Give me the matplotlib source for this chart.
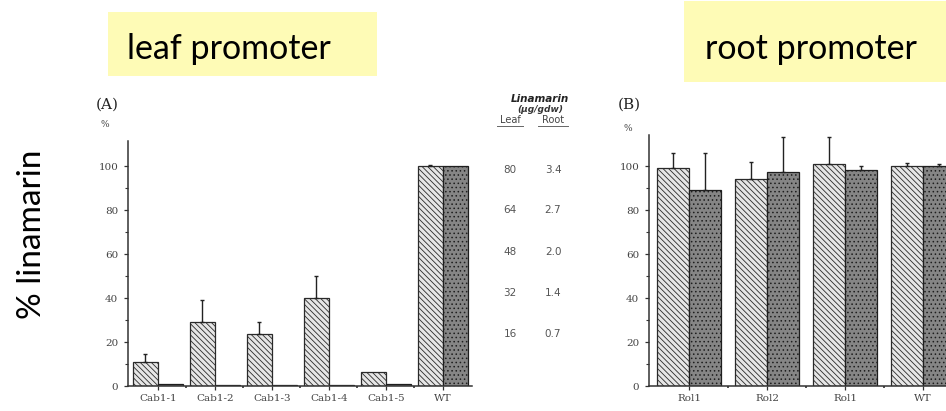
import matplotlib
matplotlib.use("Agg")
import matplotlib.pyplot as plt
import numpy as np

# ---------------- data ----------------
cats_a = ["Cab1-1", "Cab1-2", "Cab1-3", "Cab1-4", "Cab1-5", "WT"]
leaf_a = [11, 29, 23.5, 40, 6.5, 100]
leaf_a_err = [3.5, 10, 5.5, 10, 0, 0.5]
root_a = [1, 0.3, 0.3, 0.3, 0.8, 100]
root_a_err = [0, 0, 0, 0, 0, 0]

cats_b = ["Rol1", "Rol2", "Rol1", "WT"]
leaf_b = [99, 94, 101, 100]
leaf_b_err = [7, 8, 12, 1.5]
root_b = [89, 97.5, 98, 100]
root_b_err = [17, 15.5, 2, 1]

yticks = [0, 20, 40, 60, 80, 100]
table_leaf = ["80", "64", "48", "32", "16"]
table_root = ["3.4", "2.7", "2.0", "1.4", "0.7"]

# ---------------- figure ----------------
W, H = 946, 411
fig = plt.figure(figsize=(W / 100, H / 100), dpi=100)
fig.patch.set_facecolor("white")
plt.rcParams["hatch.linewidth"] = 0.6

def rect(l, t, r, b):
    return [l / W, 1 - b / H, (r - l) / W, (b - t) / H]

def fx(x):
    return x / W

def fy(y):
    return 1 - y / H

axis_col = "#333333"
tick_font = dict(family="DejaVu Serif", size=7.5, color="#444444")

def style_axis(ax, ymax, xlim):
    ax.set_ylim(0, ymax)
    ax.set_xlim(*xlim)
    for s in ["top", "right"]:
        ax.spines[s].set_visible(False)
    for s in ["left", "bottom"]:
        ax.spines[s].set_color(axis_col)
        ax.spines[s].set_linewidth(1.1)
    ax.set_yticks(yticks)
    ax.set_yticklabels([str(v) for v in yticks], **tick_font)
    ax.set_yticks(np.arange(10, 110, 20), minor=True)
    ax.tick_params(axis="y", which="major", length=3, width=0.9, color=axis_col, pad=4)
    ax.tick_params(axis="y", which="minor", length=2, width=0.8, color=axis_col)
    ax.tick_params(axis="x", which="major", length=3, width=0.9, color=axis_col, pad=3)
    ax.tick_params(axis="x", which="minor", length=1.5, width=1.2, color=axis_col)
    ax.patch.set_alpha(0)

def draw_bars(ax, leaf, leaf_err, root, root_err, w):
    idx = np.arange(len(leaf))
    ax.bar(idx - w, leaf, width=w, align="edge", facecolor="#e6e6e6",
           edgecolor="#2a2a2a", hatch="\\\\\\\\\\\\", linewidth=0.9, zorder=2)
    ax.bar(idx, root, width=w, align="edge", facecolor="#858585",
           edgecolor="#1e1e1e", hatch="....", linewidth=0.9, zorder=2)
    le = np.array(leaf_err, float)
    re = np.array(root_err, float)
    lm = le > 0
    rm = re > 0
    if lm.any():
        ax.errorbar((idx - w / 2)[lm], np.array(leaf)[lm],
                    yerr=[np.zeros(lm.sum()), le[lm]], fmt="none",
                    ecolor="#222222", elinewidth=1.0, capsize=1.5, zorder=3)
    if rm.any():
        ax.errorbar((idx + w / 2)[rm], np.array(root)[rm],
                    yerr=[np.zeros(rm.sum()), re[rm]], fmt="none",
                    ecolor="#222222", elinewidth=1.0, capsize=1.5, zorder=3)

# ---------------- panel A ----------------
axA = fig.add_axes(rect(128, 141, 472, 386))
wa = 0.44
draw_bars(axA, leaf_a, leaf_a_err, root_a, root_a_err, wa)
style_axis(axA, 111.4, (-0.526, 5.51))
axA.set_xticks(np.arange(len(cats_a)))
axA.set_xticklabels(cats_a, **tick_font)
axA.set_xticks(np.arange(len(cats_a) - 1) + 0.5, minor=True)

# ---------------- panel B ----------------
axB = fig.add_axes(rect(649, 135, 970, 386))
wb = 0.41
draw_bars(axB, leaf_b, leaf_b_err, root_b, root_b_err, wb)
style_axis(axB, 114.1, (-0.513, 3.6))
axB.set_xticks(np.arange(len(cats_b)))
axB.set_xticklabels(cats_b, **tick_font)
axB.set_xticks(np.arange(len(cats_b) - 1) + 0.5, minor=True)

# ---------------- panel labels ----------------
fig.text(fx(96), fy(105), "(A)", family="DejaVu Serif", size=11, color="#222222",
         va="center", ha="left")
fig.text(fx(100), fy(124), "%", family="DejaVu Serif", size=6.5, color="#444444",
         va="center", ha="left")
fig.text(fx(618), fy(105), "(B)", family="DejaVu Serif", size=11, color="#222222",
         va="center", ha="left")
fig.text(fx(623), fy(128), "%", family="DejaVu Serif", size=6.5, color="#444444",
         va="center", ha="left")

# ---------------- table ----------------
fig.text(fx(540), fy(99), "Linamarin", family="DejaVu Sans", size=7.5,
         style="italic", weight="bold", color="#222222", ha="center", va="center")
fig.text(fx(540), fy(109), "(\u00b5g/gdw)", family="DejaVu Sans", size=6.5,
         style="italic", weight="bold", color="#333333", ha="center", va="center")
fig.text(fx(510), fy(120), "Leaf", family="DejaVu Sans", size=7,
         color="#444444", ha="center", va="center")
fig.text(fx(553), fy(120), "Root", family="DejaVu Sans", size=7,
         color="#444444", ha="center", va="center")
fig.add_artist(plt.Line2D([fx(497), fx(523)], [fy(126), fy(126)], color="#666666", lw=0.7))
fig.add_artist(plt.Line2D([fx(538), fx(568)], [fy(126), fy(126)], color="#666666", lw=0.7))
rows_y = [170, 210, 252, 293, 334]
for yy, lv, rv in zip(rows_y, table_leaf, table_root):
    fig.text(fx(510), fy(yy), lv, family="DejaVu Sans", size=7.5,
             color="#555555", ha="center", va="center")
    fig.text(fx(553), fy(yy), rv, family="DejaVu Sans", size=7.5,
             color="#555555", ha="center", va="center")

# ---------------- promoter labels ----------------
box_col = "#fefbb6"
fig.patches.append(plt.Rectangle((fx(108), fy(76)), (377 - 108) / W, (76 - 12) / H,
                                 transform=fig.transFigure, facecolor=box_col,
                                 edgecolor="none", zorder=0))
fig.patches.append(plt.Rectangle((fx(684), fy(82)), (946 - 684) / W, (82 - 1) / H,
                                 transform=fig.transFigure, facecolor=box_col,
                                 edgecolor="none", zorder=0))
fig.text(fx(127), fy(59), "leaf promoter", family="Lato", size=24.5,
         color="black", ha="left", va="baseline")
fig.text(fx(705), fy(59), "root promoter", family="Lato", size=24.5,
         color="black", ha="left", va="baseline")

# ---------------- y label ----------------
fig.text(fx(32), fy(234), "% linamarin", family="Lato", size=24,
         rotation=90, color="black", ha="center", va="center")

fig.savefig("out.png", dpi=100)
